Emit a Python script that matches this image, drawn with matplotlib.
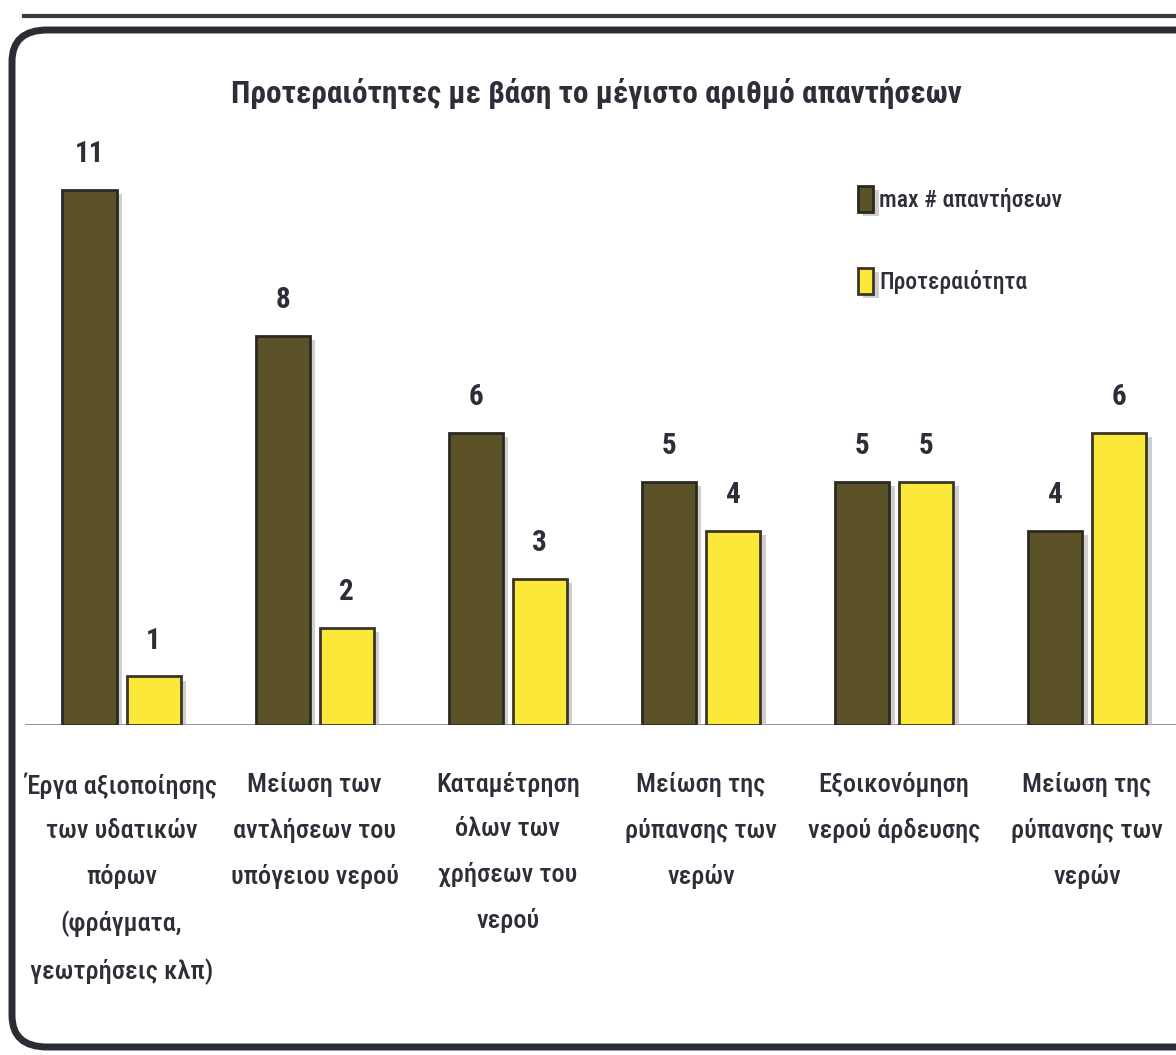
import numpy as np
import matplotlib.pyplot as plt
from matplotlib.patches import FancyBboxPatch
import matplotlib.patheffects as pe

# Δεδομένα
categories = [
    'Έργα αξιοποίησης\nτων υδατικών\nπόρων\n(φράγματα,\nγεωτρήσεις κλπ)',
    'Μείωση των\nαντλήσεων του\nυπόγειου νερού',
    'Καταμέτρηση\nόλων των\nχρήσεων του\nνερού',
    'Μείωση της\nρύπανσης των\nνερών',
    'Εξοικονόμηση\nνερού άρδευσης',
    'Μείωση της\nρύπανσης των\nνερών',
]
max_answers = [11, 8, 6, 5, 5, 4]
priority = [1, 2, 3, 4, 5, 6]
series_names = ['max # απαντήσεων', 'Προτεραιότητα']

dark = '#5c5227'
yellow = '#fbe838'
txt = '#2e2e38'
fam = ['Roboto Condensed', 'Roboto', 'DejaVu Sans']

fig = plt.figure(figsize=(11.76, 10.55), dpi=100)
ax = fig.add_axes([25 / 1176, 0.3128, 1 - 25 / 1176, 0.599])

x = np.arange(len(categories))
w = 0.28
off = 0.166
shadow = [pe.SimplePatchShadow(offset=(4, -3), shadow_rgbFace='#b0b0b0', alpha=0.6), pe.Normal()]

b1 = ax.bar(x - off, max_answers, w, color=dark, edgecolor='#2b2a22', linewidth=2,
            label=series_names[0], zorder=3)
b2 = ax.bar(x + off, priority, w, color=yellow, edgecolor='#3a3628', linewidth=2,
            label=series_names[1], zorder=3)
for b in list(b1) + list(b2):
    b.set_path_effects(shadow)

for bars in (b1, b2):
    for b in bars:
        ax.text(b.get_x() + b.get_width() / 2, b.get_height() + 0.45, str(int(b.get_height())),
                ha='center', va='bottom', fontsize=21, fontweight='bold', color=txt, family=fam)

ax.set_xlim(-0.5, 5.46)
ax.set_ylim(0, 13)
ax.axhline(0, color='#8a8a8a', linewidth=2, zorder=2)
for s in ax.spines.values():
    s.set_visible(False)
ax.set_yticks([])
ax.set_xticks(x)
ax.set_xticklabels(categories, fontsize=19, fontweight='medium', color=txt, family=fam,
                   linespacing=2.05, va='top')
ax.tick_params(axis='x', length=0, pad=34)

ax.set_title('Προτεραιότητες με βάση το μέγιστο αριθμό απαντήσεων', fontsize=22.5,
             fontweight='bold', color=txt, family=fam, x=0.496, y=0.985, pad=0)

leg = ax.legend(loc='upper left', bbox_to_anchor=(0.705, 0.887), frameon=False,
                prop={'family': fam, 'size': 17, 'weight': 'medium'},
                labelspacing=2.35, handlelength=0.65, handleheight=1.35,
                handletextpad=0.25)
for t in leg.get_texts():
    t.set_color(txt)

# πλαίσιο γύρω από το γράφημα
frame = FancyBboxPatch((12 / 1176, 8 / 1055), 1.2, 1 - 30 / 1055 - 8 / 1055,
                       boxstyle='round,pad=0,rounding_size=0.03', transform=fig.transFigure,
                       facecolor='none', edgecolor='#2c2c34', linewidth=5, clip_on=False)
fig.patches.append(frame)
fig.add_artist(plt.Line2D([0.02, 1.0], [1 - 16 / 1055, 1 - 16 / 1055], color='#3a3a42',
                          linewidth=3, transform=fig.transFigure))

fig.savefig('out.png', dpi=100)
